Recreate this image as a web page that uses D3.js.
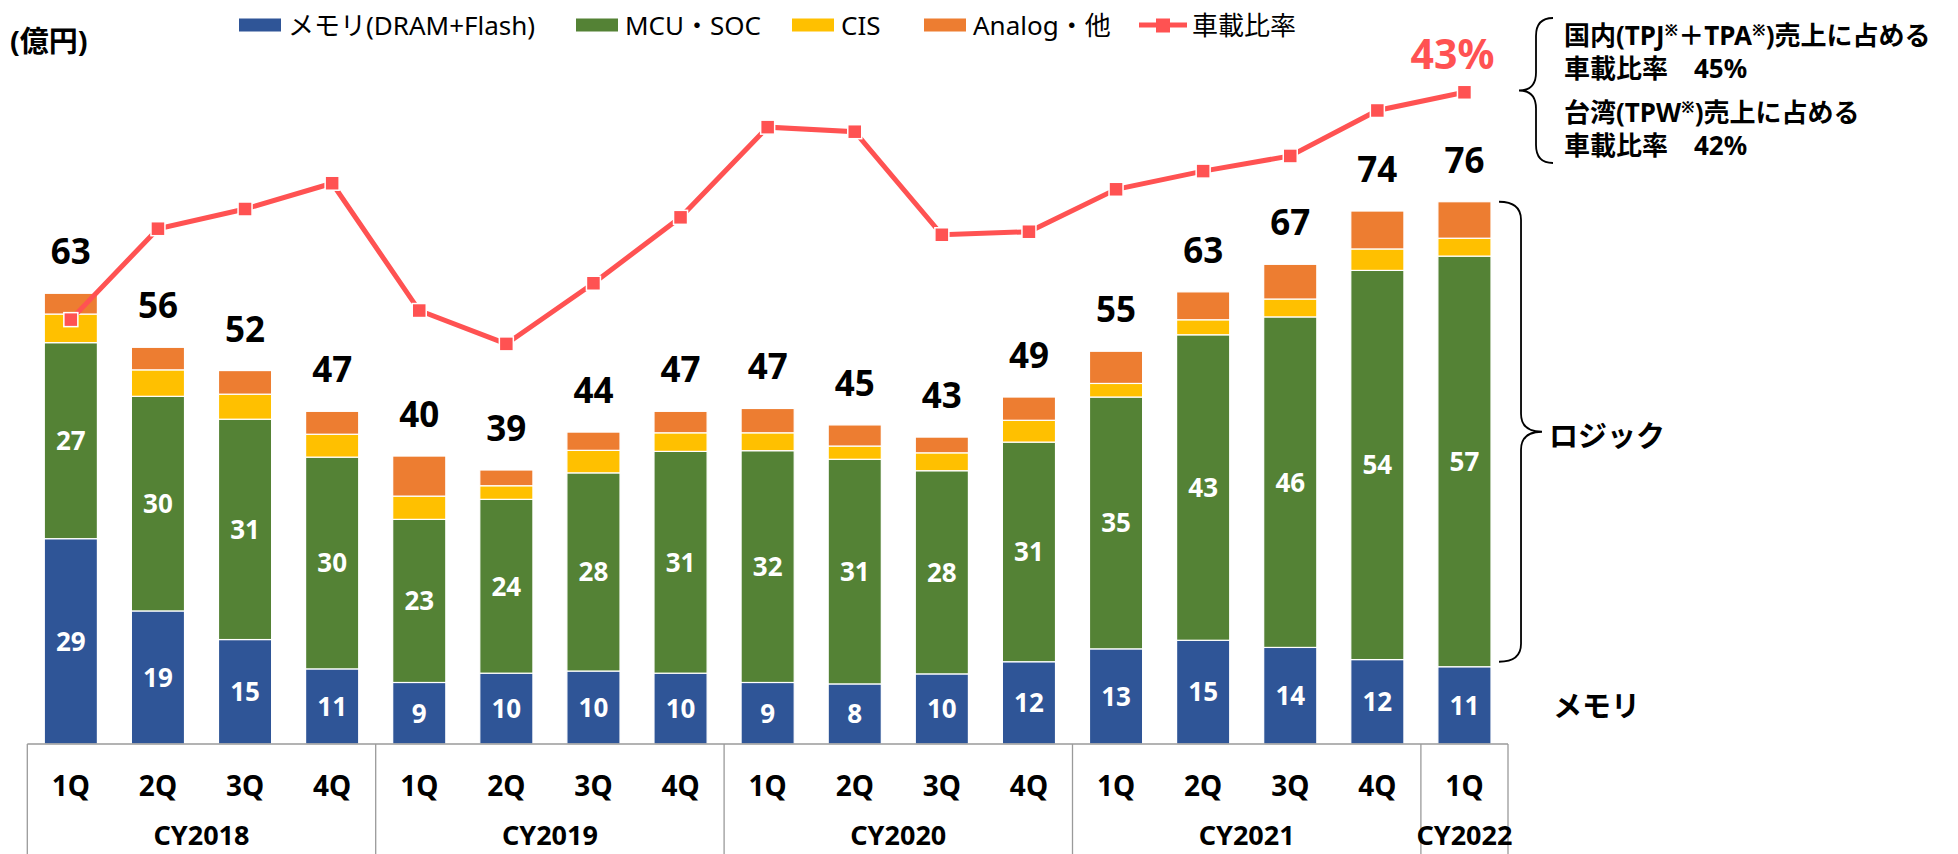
<!DOCTYPE html>
<html>
<head>
<meta charset="utf-8">
<script src="https://cdn.jsdelivr.net/npm/d3@7"></script>
<style>
  body { margin: 0; background: #fff; }
  text { font-family: "Noto Sans", "Noto Sans CJK JP", sans-serif; }
</style>
</head>
<body>
<div id="chart"></div>
<script>
var svgWidth = 1958;
var svgHeight = 854;

// ---- data ----
var quarters = ["1Q", "2Q", "3Q", "4Q", "1Q", "2Q", "3Q", "4Q", "1Q", "2Q", "3Q", "4Q", "1Q", "2Q", "3Q", "4Q", "1Q"];
var years = ["CY2018", "CY2019", "CY2020", "CY2021", "CY2022"];

var memory = [28.7, 18.6, 14.6, 10.5, 8.6, 9.9, 10.2, 9.9, 8.6, 8.4, 9.8, 11.5, 13.3, 14.5, 13.5, 11.8, 10.8];
var mcu    = [27.4, 30.0, 30.8, 29.6, 22.8, 24.3, 27.7, 31.0, 32.4, 31.4, 28.4, 30.7, 35.2, 42.7, 46.2, 54.4, 57.4];
var cis    = [4.0, 3.7, 3.5, 3.2, 3.25, 1.9, 3.15, 2.6, 2.5, 1.85, 2.5, 3.05, 1.9, 2.1, 2.5, 3.0, 2.5];
var analog = [2.9, 3.15, 3.3, 3.2, 5.6, 2.2, 2.55, 3.0, 3.4, 2.95, 2.2, 3.25, 4.5, 3.9, 4.85, 5.3, 5.1];
var totals = [63, 56, 52, 47, 40, 39, 44, 47, 47, 45, 43, 49, 55, 63, 67, 74, 76];
// 車載比率 (%)
var ratio  = [28.0, 34.0, 35.3, 37.0, 28.6, 26.4, 30.4, 34.75, 40.7, 40.4, 33.6, 33.8, 36.6, 37.8, 38.8, 41.8, 43.0];

var seriesNames = ["メモリ(DRAM+Flash)", "MCU・SOC", "CIS", "Analog・他", "車載比率"];
var keys = ["memory", "mcu", "cis", "analog"];
var colors = { memory: "#2F5597", mcu: "#548235", cis: "#FFC000", analog: "#ED7D31" };
var lineColor = "#FF5252";

// table for d3.stack
var rows = quarters.map(function (q, i) {
  return { id: i, q: q, memory: memory[i], mcu: mcu[i], cis: cis[i], analog: analog[i] };
});

var svg = d3.select("#chart")
  .append("svg")
  .attr("width", svgWidth)
  .attr("height", svgHeight);

// ---- scales ----
var baseY = 744;
var x = d3.scaleBand()
  .domain(d3.range(quarters.length))
  .range([27.3, 1508])
  .paddingInner(0.39)
  .paddingOuter(0.195);

var y = d3.scaleLinear().domain([0, 80]).range([baseY, baseY - 80 * 7.154]);
var yPct = d3.scaleLinear().domain([0, 50]).range([baseY, baseY - 50 * 15.156]);

var stacked = d3.stack().keys(keys)(rows);

// ---- bars ----
svg.append("g")
  .selectAll("g")
  .data(stacked)
  .enter()
  .append("g")
  .attr("fill", d => colors[d.key])
  .selectAll("rect")
  .data(d => d)
  .enter()
  .append("rect")
  .attr("x", d => x(d.data.id))
  .attr("y", d => y(d[1]))
  .attr("width", x.bandwidth())
  .attr("height", d => y(d[0]) - y(d[1]))
  .attr("stroke", "#fff")
  .attr("stroke-width", 1.2);

// in-bar labels for memory and MCU
["memory", "mcu"].forEach(function (k) {
  var layer = stacked.find(s => s.key === k);
  svg.append("g")
    .selectAll("text")
    .data(layer)
    .enter()
    .append("text")
    .attr("x", d => x(d.data.id) + x.bandwidth() / 2)
    .attr("y", d => (y(d[0]) + y(d[1])) / 2)
    .attr("dy", "0.36em")
    .attr("text-anchor", "middle")
    .attr("fill", "#fff")
    .attr("font-weight", "bold")
    .attr("font-size", 26)
    .text(d => Math.round(d.data[k]));
});

// totals above bars
var topLayer = stacked[stacked.length - 1];
svg.append("g")
  .selectAll("text")
  .data(topLayer)
  .enter()
  .append("text")
  .attr("x", d => x(d.data.id) + x.bandwidth() / 2)
  .attr("y", d => y(d[1]) - 29)
  .attr("text-anchor", "middle")
  .attr("font-weight", "bold")
  .attr("font-size", 35)
  .attr("fill", "#000")
  .text((d, i) => totals[i]);

// ---- ratio line ----
var cx = i => x(i) + x.bandwidth() / 2;
var line = d3.line()
  .x((d, i) => cx(i))
  .y(d => yPct(d));

svg.append("path")
  .datum(ratio)
  .attr("fill", "none")
  .attr("stroke", lineColor)
  .attr("stroke-width", 5)
  .attr("d", line);

svg.append("g")
  .selectAll("rect")
  .data(ratio)
  .enter()
  .append("rect")
  .attr("x", (d, i) => cx(i) - 7)
  .attr("y", d => yPct(d) - 7)
  .attr("width", 14)
  .attr("height", 14)
  .attr("fill", lineColor)
  .attr("stroke", "#fff")
  .attr("stroke-width", 1.5);

var last = ratio.length - 1;
svg.append("text")
  .attr("x", cx(last) - 12)
  .attr("y", yPct(ratio[last]) - 23)
  .attr("text-anchor", "middle")
  .attr("font-weight", "bold")
  .attr("font-size", 41)
  .attr("fill", lineColor)
  .text(ratio[last] + "%");

// ---- category axis box ----
var axisColor = "#9a9a9a";
var x0 = x.range()[0], x1 = x.range()[1];
var axisG = svg.append("g").attr("stroke", axisColor).attr("stroke-width", 1.3);
axisG.append("line").attr("x1", x0).attr("x2", x1).attr("y1", baseY).attr("y2", baseY);
var yearBounds = [x0];
years.forEach(function (yr, k) {
  var end = Math.min((k + 1) * 4, quarters.length);
  yearBounds.push(x(end - 1) + x.step() - x.step() * x.paddingInner() / 2);
});
yearBounds[yearBounds.length - 1] = x1;
yearBounds.forEach(function (bx) {
  axisG.append("line").attr("x1", bx).attr("x2", bx).attr("y1", baseY).attr("y2", svgHeight);
});

svg.append("g")
  .selectAll("text")
  .data(quarters)
  .enter()
  .append("text")
  .attr("x", (d, i) => cx(i))
  .attr("y", 796)
  .attr("text-anchor", "middle")
  .attr("font-weight", "bold")
  .attr("font-size", 28)
  .text(d => d);

svg.append("g")
  .selectAll("text")
  .data(years)
  .enter()
  .append("text")
  .attr("x", (d, k) => {
    var a = k * 4, b = Math.min(k * 4 + 3, quarters.length - 1);
    return (cx(a) + cx(b)) / 2;
  })
  .attr("y", 845)
  .attr("text-anchor", "middle")
  .attr("font-weight", "bold")
  .attr("font-size", 27)
  .text(d => d);

// ---- unit label ----
svg.append("text")
  .attr("x", 10)
  .attr("y", 52)
  .attr("font-weight", "bold")
  .attr("font-size", 29)
  .text("(億円)");

// ---- legend ----
var legendX = [239, 576, 792, 924, 1139];
var legend = svg.append("g");
keys.forEach(function (k, i) {
  legend.append("rect")
    .attr("x", legendX[i]).attr("y", 18.5)
    .attr("width", 42).attr("height", 13)
    .attr("fill", colors[k]);
  legend.append("text")
    .attr("x", legendX[i] + 49).attr("y", 34.5)
    .attr("font-size", 26)
    .text(seriesNames[i]);
});
legend.append("line")
  .attr("x1", legendX[4]).attr("x2", legendX[4] + 48)
  .attr("y1", 25).attr("y2", 25)
  .attr("stroke", lineColor).attr("stroke-width", 5);
legend.append("rect")
  .attr("x", legendX[4] + 17).attr("y", 18.5)
  .attr("width", 14).attr("height", 14)
  .attr("fill", lineColor);
legend.append("text")
  .attr("x", legendX[4] + 53).attr("y", 34.5)
  .attr("font-size", 26)
  .text(seriesNames[4]);

// ---- braces ----
function brace(xEnd, xMid, xTip, top, bottom) {
  var mid = (top + bottom) / 2, r = 18;
  var p = d3.path();
  p.moveTo(xEnd, top);
  p.quadraticCurveTo(xMid, top, xMid, top + r);
  p.lineTo(xMid, mid - r);
  p.quadraticCurveTo(xMid, mid, xTip, mid);
  p.quadraticCurveTo(xMid, mid, xMid, mid + r);
  p.lineTo(xMid, bottom - r);
  p.quadraticCurveTo(xMid, bottom, xEnd, bottom);
  return p.toString();
}

var lastBar = topLayer[topLayer.length - 1];
var memTop = stacked[0][quarters.length - 1][1];
var bx0 = x(last) + x.bandwidth() + 8;
svg.append("path")
  .attr("d", brace(bx0, bx0 + 22, bx0 + 43, y(lastBar[1]), y(memTop) - 5))
  .attr("fill", "none").attr("stroke", "#000").attr("stroke-width", 1.8);

svg.append("text")
  .attr("x", 1549).attr("y", 447)
  .attr("font-weight", "bold").attr("font-size", 29)
  .text("ロジック");
svg.append("text")
  .attr("x", 1553).attr("y", 717)
  .attr("font-weight", "bold").attr("font-size", 29)
  .text("メモリ");

svg.append("path")
  .attr("d", brace(1553, 1536, 1519, 18, 163))
  .attr("fill", "none").attr("stroke", "#000").attr("stroke-width", 1.8);

// ---- top-right note ----
var note = svg.append("g").attr("font-weight", "bold").attr("font-size", 26);
function noteLine(yy, parts) {
  var t = note.append("text").attr("x", 1564).attr("y", yy);
  var raised = false;
  parts.forEach(function (p) {
    if (p === "※") {
      t.append("tspan").attr("font-size", 16).attr("dy", -9).text("※");
      raised = true;
    } else {
      t.append("tspan").attr("dy", raised ? 9 : 0).text(p);
      raised = false;
    }
  });
}
noteLine(45, ["国内(TPJ", "※", "＋TPA", "※", ")売上に占める"]);
noteLine(78, ["車載比率　45%"]);
noteLine(122, ["台湾(TPW", "※", ")売上に占める"]);
noteLine(155, ["車載比率　42%"]);
</script>
</body>
</html>
